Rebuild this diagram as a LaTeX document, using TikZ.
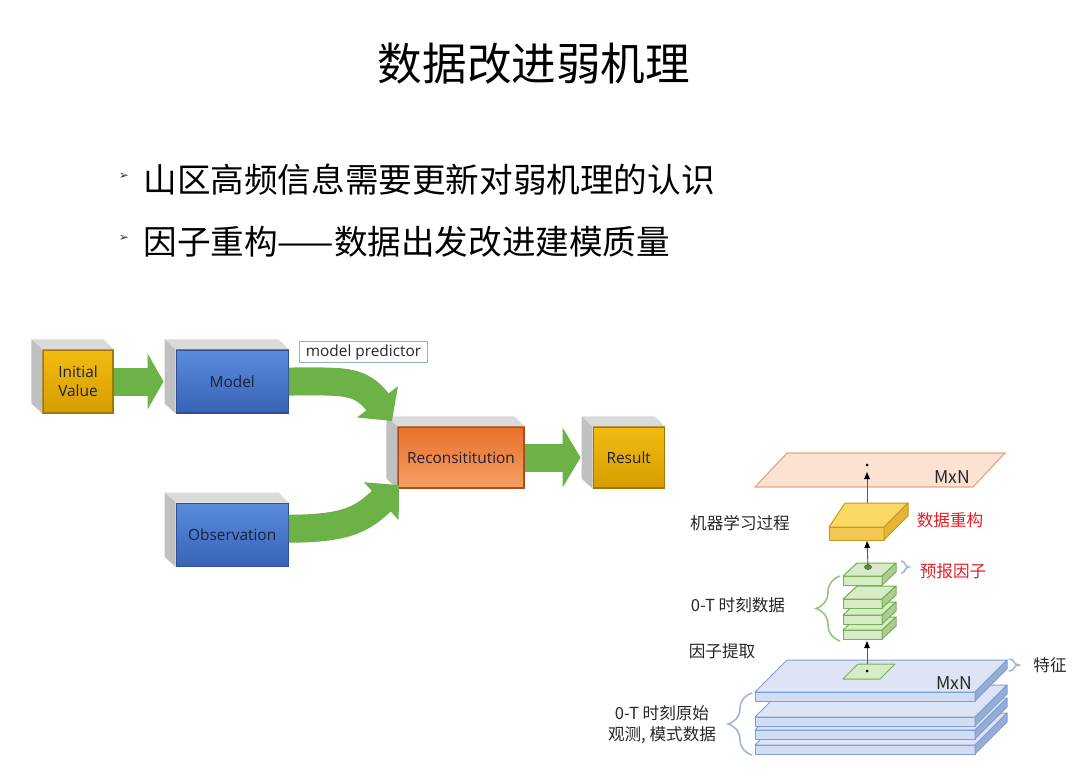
\documentclass[tikz,border=0pt]{standalone}
\usepackage{fontspec}
\setmainfont{Open Sans}
\newfontfamily\cjk{Noto Sans CJK SC}
\newfontfamily\dingfont{DejaVu Sans}
\usetikzlibrary{arrows.meta,positioning,calc,decorations.pathreplacing}

\definecolor{gold}{RGB}{242,188,18}
\definecolor{golddark}{RGB}{214,156,0}
\definecolor{goldedge}{RGB}{160,120,0}
\definecolor{modelblue}{RGB}{90,140,220}
\definecolor{modelbluedark}{RGB}{56,98,182}
\definecolor{blueedge}{RGB}{46,80,146}
\definecolor{reconorange}{RGB}{232,112,40}
\definecolor{reconlight}{RGB}{246,160,104}
\definecolor{orangeedge}{RGB}{168,78,24}
\definecolor{bevellight}{RGB}{218,218,218}
\definecolor{beveldark}{RGB}{192,192,192}
\definecolor{arrowgreen}{RGB}{108,178,70}
\definecolor{boxtext}{RGB}{28,32,58}
\definecolor{predline}{RGB}{150,175,200}
\definecolor{labelred}{RGB}{232,30,36}
\definecolor{cntext}{RGB}{40,40,40}
\definecolor{peach}{RGB}{252,226,210}
\definecolor{peachedge}{RGB}{238,165,130}
\definecolor{yellowtop}{RGB}{250,218,100}
\definecolor{yellowfront}{RGB}{244,200,80}
\definecolor{yellowside}{RGB}{226,180,55}
\definecolor{yellowedge}{RGB}{198,154,34}
\definecolor{greenfront}{RGB}{214,235,198}
\definecolor{greenside}{RGB}{172,204,146}
\definecolor{greenedge}{RGB}{118,176,84}
\definecolor{platetop}{RGB}{220,228,245}
\definecolor{platefront}{RGB}{208,221,242}
\definecolor{plateside}{RGB}{150,172,212}
\definecolor{plateedge}{RGB}{125,160,212}
\definecolor{bracegreen}{RGB}{150,200,120}
\definecolor{braceblue}{RGB}{160,185,215}

\begin{document}
\begin{tikzpicture}[x=0.5pt,y=-0.5pt,
  flowbox/.style={draw, line width=0.6pt, minimum height=31.5pt, inner sep=1pt,
    align=center, text=boxtext, font=\fontsize{7.7}{9.4}\selectfont},
  predbox/.style={draw=predline, fill=white, line width=0.6pt, inner xsep=3pt,
    inner ysep=1.5pt, text=cntext, font=\fontsize{7.7}{9.4}\selectfont},
  bigarrow/.style={draw=arrowgreen, line width=14pt},
  thinarrow/.style={draw=gray!70!black, line width=0.45pt,
    -{Triangle[length=3.5pt,width=2.8pt,black]}},
  cnlabel/.style={font=\cjk\fontsize{8.3}{10.5}\selectfont, text=cntext, inner sep=0pt},
  redlabel/.style={cnlabel, text=labelred},
  slabedge/.style={line width=0.5pt, line join=round},
  bracebase/.style={decorate, line width=0.8pt},
  descr/.style={font=\cjk\fontsize{16.8}{20}\selectfont, inner sep=0pt, anchor=west}]

\fill[white] (0,0) rectangle (1080,776);
\useasboundingbox (0,0) rectangle (1080,776);

% title and bullets
\node[font=\cjk\fontsize{22.3}{26}\selectfont] (title) at (534,64) {数据改进弱机理};
\node[font=\dingfont\fontsize{6}{6}\selectfont, text=black!80] (m1) at (124,176) {➢};
\node[font=\dingfont\fontsize{6}{6}\selectfont, text=black!80] (m2) at (124,238) {➢};
\node[descr] (b1) at (143,180) {山区高频信息需要更新对弱机理的认识};
\node[descr] (b2) at (143,242) {因子重构——数据出发改进建模质量};

% flow chart
\node[flowbox, minimum width=35pt, top color=gold, bottom color=golddark,
  draw=goldedge] (init) at (78,381.5) {Initial\\Value};
\node[flowbox, minimum width=56pt, top color=modelblue, bottom color=modelbluedark,
  draw=blueedge, right=31pt of init] (model) {Model};
\node[flowbox, minimum width=56pt, top color=modelblue, bottom color=modelbluedark,
  draw=blueedge, below=44.5pt of model] (obs) {Observation};
\node[flowbox, minimum width=63pt, minimum height=30.5pt, top color=reconorange,
  bottom color=reconlight, draw=orangeedge] (recon) at (461,457.5) {Reconsititution};
\node[flowbox, minimum width=35.5pt, minimum height=30.5pt, top color=gold,
  bottom color=golddark, draw=goldedge, right=34pt of recon] (res) {Result};
\node[predbox] (pred) at (363.5,352) {model predictor};

\foreach \n in {init,model,obs,recon,res}{
  \fill[bevellight] (\n.north west) -- ++(-11,-10) -- ($(\n.north east)+(-10,-10)$)
    -- (\n.north east) -- cycle;
  \fill[beveldark] (\n.north west) -- ++(-11,-10) -- ($(\n.south west)+(-11,-10)$)
    -- (\n.south west) -- cycle;
}

\coordinate (tipA) at (392,421);
\coordinate (tipB) at (399,485);
\draw[bigarrow, -{Triangle[width=27.5pt,length=8pt]}] (init.east) -- ([xshift=-6pt]model.west);
\draw[bigarrow, -{Triangle[width=29.5pt,length=9pt]}] (recon.east) -- ([xshift=-6pt]res.west);
\draw[bigarrow, -{Triangle[width=25pt,length=12pt]}] (model.east)
  .. controls +(55,0) and +(-32,-42) .. (tipA);
\draw[bigarrow, -{Triangle[width=25pt,length=12pt]}] ([yshift=3pt]obs.east)
  .. controls +(60,0) and +(-36,33) .. (tipB);

% layers
\foreach \y in {745,730,717,692}{
  \filldraw[slabedge, draw=plateedge, fill=platetop] (755,\y) -- (787,\y-32)
    -- (1007,\y-32) -- (975,\y) -- cycle;
  \filldraw[slabedge, draw=plateedge, fill=platefront] (755,\y) rectangle (975,\y+9);
  \filldraw[slabedge, draw=plateedge, fill=plateside] (975,\y) -- (1007,\y-32)
    -- (1007,\y-23) -- (975,\y+9) -- cycle;
}
\filldraw[slabedge, draw=greenedge, fill=greenfront] (843,679) -- (858,664)
  -- (895,664) -- (880,679) -- cycle;
\fill (867,671) circle[radius=1.5];
\node[cnlabel, font=\cjk\fontsize{8.8}{10}\selectfont] (mn1) at (954,683) {MxN};

\foreach \y in {630,615,599,576}{
  \filldraw[slabedge, draw=greenedge, fill=greenfront] (843,\y) -- (857,\y-13)
    -- (896,\y-13) -- (882,\y) -- cycle;
  \filldraw[slabedge, draw=greenedge, fill=greenfront] (843,\y) rectangle (882,\y+9);
  \filldraw[slabedge, draw=greenedge, fill=greenside] (882,\y) -- (896,\y-13)
    -- (896,\y-4) -- (882,\y+9) -- cycle;
}
\filldraw[fill=greenedge!80!black, draw=greenedge!60!black, line width=0.3pt]
  (868,567) ellipse[x radius=3.5, y radius=2.5];

\filldraw[slabedge, draw=yellowedge, fill=yellowtop] (829,527) -- (845,503)
  -- (908,503) -- (884,527) -- cycle;
\filldraw[slabedge, draw=yellowedge, fill=yellowfront] (829,527) rectangle (884,540);
\filldraw[slabedge, draw=yellowedge, fill=yellowside] (884,527) -- (908,503)
  -- (908,516) -- (884,540) -- cycle;

\filldraw[draw=peachedge, fill=peach, line width=0.6pt] (755,487) -- (787,453)
  -- (1005,453) -- (973,487) -- cycle;
\fill (867,465) circle[radius=1.5];
\node[cnlabel, font=\cjk\fontsize{8.8}{10}\selectfont] (mn2) at (952,477) {MxN};

\coordinate (ftop) at (867,664);
\coordinate (gbot) at (867,641);
\coordinate (gdot) at (868,567);
\coordinate (ybot) at (867,541);
\coordinate (ytop) at (867,503);
\coordinate (phit) at (867,472);
\draw[thinarrow] (ftop) -- (gbot);
\draw[thinarrow] (gdot) -- (ybot);
\draw[thinarrow] (ytop) -- (phit);

% labels and braces
\node[cnlabel] (learn) at (740,523) {机器学习过程};
\node[redlabel] (rebuild) at (950,520) {数据重构};
\node[redlabel] (factor) at (953,571) {预报因子};
\node[cnlabel] (tdata) at (738,605) {0-T 时刻数据};
\node[cnlabel] (extract) at (722,651) {因子提取};
\node[cnlabel] (feature) at (1050,665) {特征};
\node[cnlabel, align=center] (raw) at (662,725) {0-T 时刻原始\\观测, 模式数据};

\draw[bracebase, draw=bracegreen, decoration={brace, amplitude=12pt}] (840,641) -- (840,576);
\draw[bracebase, draw=braceblue, decoration={brace, amplitude=12pt}] (752,755) -- (752,693);
\draw[bracebase, draw=braceblue, decoration={brace, amplitude=4pt}] (901,561) -- (901,573);
\draw[bracebase, draw=braceblue, decoration={brace, amplitude=5pt}] (1009,659) -- (1009,671);
\end{tikzpicture}
\end{document}
